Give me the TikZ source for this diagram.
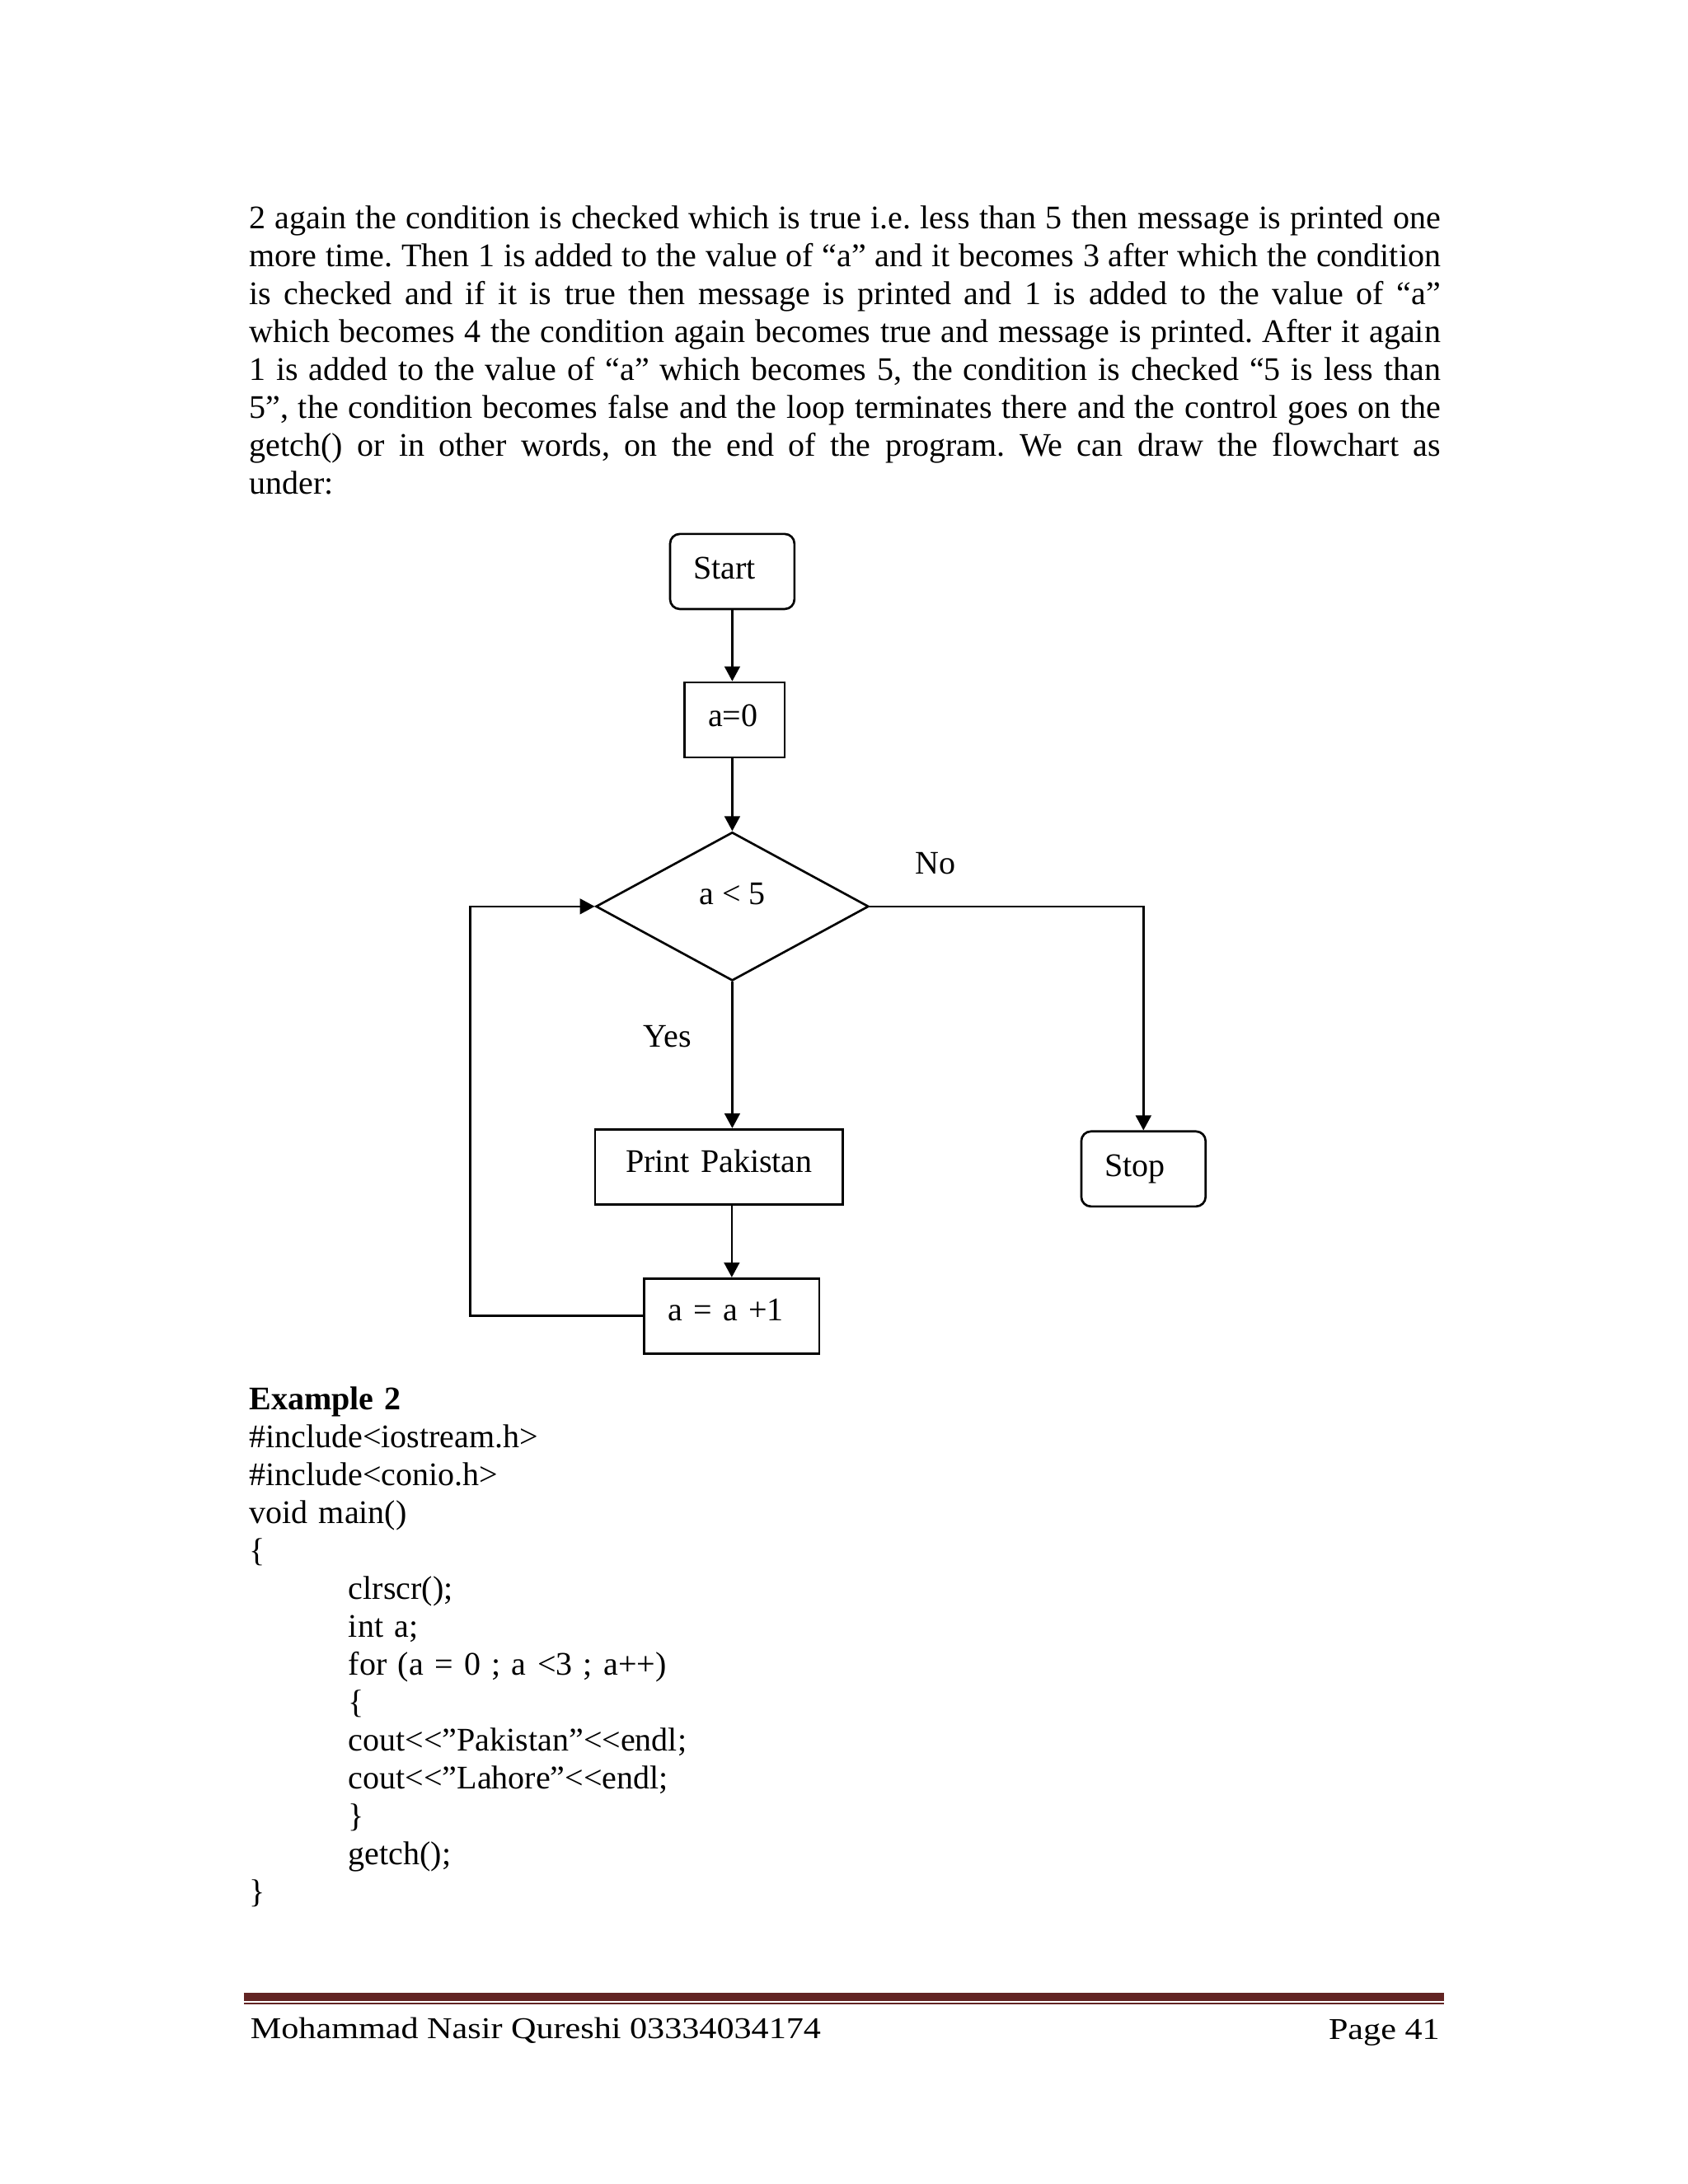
\documentclass[tikz,border=0pt]{standalone}
\usepackage{fontspec}
\setmainfont{Liberation Serif}
\newfontfamily\footfont[FakeStretch=1.15]{Liberation Serif}
\usepackage{xcolor}
\usepackage{tikz}
\usetikzlibrary{positioning,shapes.geometric,arrows.meta,calc}

\definecolor{footred}{HTML}{622423}
\newcommand{\codetab}{\hspace*{1.27cm}}
\newcommand{\shl}{<\kern0pt<}

\begin{document}
\begin{tikzpicture}[
  every node/.style={font=\fontsize{12}{13.8}\selectfont},
  >={Triangle[width=5.6pt,length=5.4pt]},
  line width=0.8pt,
  term/.style={draw, rounded corners=3.5pt, inner xsep=0.3cm, inner ysep=0pt,
               align=left, minimum height=0.96cm,
               text height=8pt, text depth=2.7pt},
  proc/.style={draw, inner xsep=0.3cm, inner ysep=0pt, align=left,
               minimum height=0.96cm, text height=8pt, text depth=4.8pt},
  decide/.style={draw, diamond, inner sep=0pt, minimum width=3.49cm,
                 minimum height=1.9cm, text height=8pt, text depth=9.2pt}
]
% Page: letter size, 1cm = 94.9px of the scan

%% --- Page ----------------------------------------------------
\fill[white] (0,0) rectangle (21.59,-27.94);
\useasboundingbox (0,0) rectangle (21.59,-27.94);

%% --- Running text --------------------------------------------
\node[anchor=base west, text width=15.24cm, align=justify, inner sep=0pt]
     (para) at (3.175,-2.93)
     {\tolerance=9999\frenchspacing
      2 again the condition is checked which is true i.e. less than 5 then message is printed one\linebreak
      more time. Then 1 is added to the value of “a” and it becomes 3 after which the condition\linebreak
      is checked and if it is true then message is printed and 1 is added to the value of “a”\linebreak
      which becomes 4 the condition again becomes true and message is printed. After it again\linebreak
      1 is added to the value of “a” which becomes 5, the condition is checked “5 is less than\linebreak
      5”, the condition becomes false and the loop terminates there and the control goes on the\linebreak
      getch() or in other words, on the end of the program. We can draw the flowchart as\linebreak
      under:};

%% --- Flowchart boxes -----------------------------------------
\node[term, text width=0.99cm]            (start) at (9.367,-7.311)  {Start};
\node[proc, text width=0.68cm,
      text depth=3.4pt]                   (init)  at (9.398,-9.209)  {a=0};
\node[decide]                             (cond)  at (9.367,-11.596) {a < 5};
\node[proc, text width=2.57cm, align=center,
      text depth=4.2pt]                   (print) at (9.198,-14.927) {Print Pakistan};
\node[proc, text width=1.64cm]            (incr)  at (9.361,-16.835) {a = a +1};
\node[term, text width=0.99cm, text depth=2.3pt]
                                          (stop)  at (14.627,-14.954) {Stop};

%% --- Branch labels -------------------------------------------
\node[anchor=base] (yes) at (8.54,-13.40)   {Yes};
\node[anchor=base] (no)  at (11.965,-11.185) {No};

%% --- Connectors ----------------------------------------------
\coordinate[left=1.59cm of cond.west] (back);
\draw[->] (start.south) -- (start.south |- init.north);
\draw[->] (cond.north |- init.south) -- (cond.north);
\draw[->] (cond.south) -- (cond.south |- print.north);
\draw[->] (incr.north |- print.south) -- (incr.north);
\draw[->] (cond.east) -| (stop.north);
\draw[->] (incr.west) -| (back) -- (cond.west);

%% --- Program listing -----------------------------------------
\node[anchor=base west, text width=12cm, align=left, inner sep=0pt]
     (code) at (3.175,-18.036)
     {\textbf{Example 2}\\
      \#include<iostream.h>\\
      \#include<conio.h>\\
      void main()\\
      \{\\
      \codetab clrscr();\\
      \codetab int a;\\
      \codetab for (a = 0 ; a <3 ; a++)\\
      \codetab \{\\
      \codetab cout\shl”Pakistan”\shl endl;\\
      \codetab cout\shl”Lahore”\shl endl;\\
      \codetab \}\\
      \codetab getch();\\
      \}};

%% --- Footer --------------------------------------------------
\draw[footred, line width=3pt]   (3.12,-25.544) -- (18.47,-25.544);
\draw[footred, line width=0.6pt] (3.12,-25.631) -- (18.47,-25.631);
\node[font=\footfont\fontsize{11}{13}\selectfont, anchor=base west, inner sep=0pt]
     (author) at (3.19,-26.08) {Mohammad Nasir Qureshi 03334034174};
\node[font=\footfont\fontsize{11}{13}\selectfont, anchor=base east, inner sep=0pt]
     (pageno) at (18.43,-26.09) {Page 41};

\end{tikzpicture}
\end{document}
